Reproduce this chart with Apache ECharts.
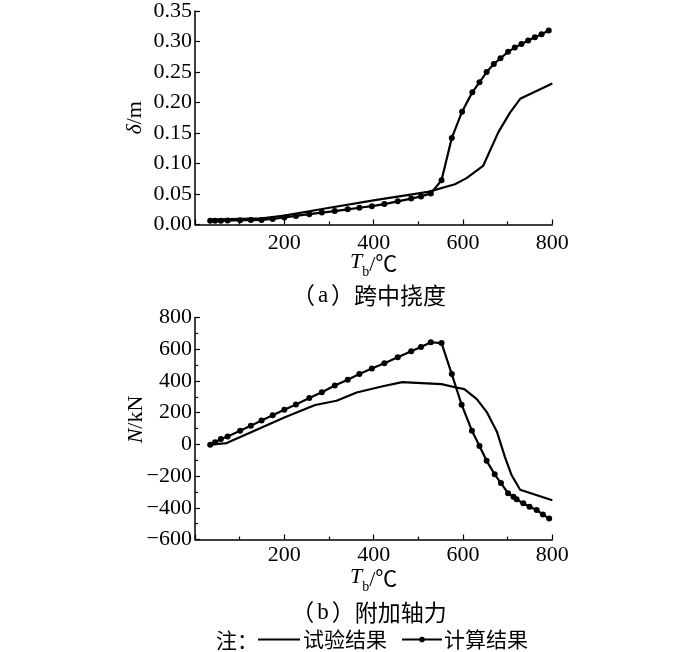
<!DOCTYPE html>
<html>
<head>
<meta charset="utf-8">
<script src="https://cdn.jsdelivr.net/npm/echarts@6/dist/echarts.min.js"></script>
<style>html,body{margin:0;padding:0;background:#fff;}#c{width:700px;height:652px;}</style>
</head>
<body>
<div id="c"></div>
<script>
// (a) mid-span deflection
const aTestT = [34, 150, 200, 298, 403, 522, 582, 608, 645, 679, 705, 728, 800];
const aTestD = [0.008, 0.010, 0.0145, 0.027, 0.040, 0.0535, 0.066, 0.076, 0.096, 0.151, 0.183, 0.206, 0.231];
const aCalcT = [34, 45, 58, 73, 101, 125, 149, 174, 200, 226, 256, 284, 313, 342, 368, 396, 424, 454, 484, 506, 528, 552, 575, 598, 621, 637, 653, 669, 684, 701, 716, 731, 746, 761, 776, 792];
const aCalcD = [0.006, 0.006, 0.0062, 0.0064, 0.007, 0.0072, 0.0075, 0.009, 0.0115, 0.014, 0.017, 0.0195, 0.022, 0.0248, 0.0275, 0.030, 0.0335, 0.038, 0.0425, 0.046, 0.051, 0.0725, 0.142, 0.185, 0.217, 0.233, 0.250, 0.263, 0.2725, 0.283, 0.290, 0.296, 0.3015, 0.307, 0.312, 0.318];
// (b) additional axial force
const bTestT = [34, 71, 200, 269, 317, 362, 418, 464, 552, 582, 603, 631, 653, 676, 694, 709, 728, 800];
const bTestN = [-2, 8, 170, 248, 275, 327, 365, 392, 380, 360, 348, 285, 205, 80, -80, -195, -286, -352];
const bCalcT = [34, 45, 58, 73, 101, 125, 149, 174, 200, 226, 256, 284, 313, 342, 368, 396, 424, 454, 484, 506, 528, 552, 575, 597, 620, 637, 653, 671, 685, 701, 713, 720, 735, 749, 765, 779, 793];
const bCalcN = [-2, 13, 34, 50, 86, 118, 151, 183, 218, 252, 292, 329, 371, 407, 443, 478, 512, 550, 587, 614, 644, 639, 443, 250, 86, -11, -104, -189, -244, -308, -331, -346, -372, -394, -414, -443, -468];

const xTicks = {min: 0, max: 800, interval: 200};
const aYTicks = {min: 0, max: 0.35, interval: 0.05};
const bYTicks = {min: -600, max: 800, interval: 200};

const seriesNames = ['试验结果', '计算结果'];
const titleLetters = ['a', 'b'];
const titleTexts = ['跨中挠度', '附加轴力'];

const zip = (xs, ys) => xs.map((x, i) => [x, ys[i]]);
const SERIF = "'Liberation Serif','Noto Sans CJK SC'";
const CJK = "'Noto Sans CJK SC'";
const LW = 2.2;

function xAxis(gi, labelMargin) {
  return {
    type: 'value', gridIndex: gi, min: xTicks.min, max: xTicks.max, interval: xTicks.interval,
    axisLine: {show: true, onZero: false, lineStyle: {color: '#000', width: 1.5}},
    axisTick: {show: true, inside: true, length: 5, lineStyle: {color: '#000', width: 1.2}},
    minorTick: {show: true, splitNumber: 2, length: 3, lineStyle: {color: '#000', width: 1.2}},
    splitLine: {show: false},
    axisLabel: {color: '#000', fontSize: 22, fontFamily: SERIF, margin: labelMargin, showMinLabel: false,
      formatter: v => v === 0 ? '' : String(v)},
    name: '{i|T}{s|b}{n|/℃}', nameLocation: 'middle', nameGap: 27, nameMoveOverlap: false,
    nameTextStyle: {rich: {
      i: {fontSize: 22, fontStyle: 'italic', fontFamily: SERIF, color: '#000', verticalAlign: 'top'},
      s: {fontSize: 14, fontFamily: SERIF, color: '#000', padding: [14, 0, 0, 0]},
      n: {fontSize: 22, fontFamily: SERIF, color: '#000'}
    }}
  };
}

function titleOf(i, top) {
  return {
    text: '{p|（}{l|' + titleLetters[i] + '}{p|）}{c|' + titleTexts[i] + '}',
    left: 364, top: top, textAlign: 'center',
    textStyle: {fontWeight: 'normal', rich: {
      p: {fontSize: 23, fontWeight: 'normal', fontFamily: CJK, color: '#000'},
      l: {fontSize: 23, fontWeight: 'normal', fontFamily: "'Liberation Serif'", color: '#000', padding: [0, 3, 0, 3]},
      c: {fontSize: 23, fontWeight: 'normal', fontFamily: CJK, color: '#000'}
    }}
  };
}

const option = {
  animation: false,
  backgroundColor: '#fff',
  grid: [
    {left: 195, top: 4.5, width: 357.3, height: 220, containLabel: false},
    {left: 195, top: 317.5, width: 357.3, height: 222, containLabel: false}
  ],
  title: [titleOf(0, 279), titleOf(1, 596)],
  legend: [
    {
      left: 258, top: 629, padding: 0, itemWidth: 42, itemHeight: 2, icon: 'rect',
      data: [seriesNames[0]],
      textStyle: {fontSize: 21, fontFamily: CJK, color: '#000', padding: [0, 0, 0, -2]}
    },
    {
      left: 401, top: 629, padding: 0, itemWidth: 40, itemHeight: 7,
      data: [seriesNames[1]],
      textStyle: {fontSize: 21, fontFamily: CJK, color: '#000', padding: [0, 0, 0, -3]}
    }
  ],
  graphic: [
    {type: 'text', left: 216, top: 630, style: {text: '注：', font: "21px 'Noto Sans CJK SC'", fill: '#000'}}
  ],
  xAxis: [xAxis(0, 8), xAxis(1, 5)],
  yAxis: [
    {
      type: 'value', gridIndex: 0, min: aYTicks.min, max: aYTicks.max, interval: aYTicks.interval,
      axisLine: {show: true, lineStyle: {color: '#000', width: 1.5}},
      axisTick: {show: true, inside: true, length: 5, lineStyle: {color: '#000', width: 1.2}},
      splitLine: {show: false},
      axisLabel: {color: '#000', fontSize: 22, fontFamily: SERIF, margin: 3, formatter: v => v.toFixed(2)},
      name: '{i|δ}/m', nameLocation: 'middle', nameGap: 49, nameRotate: 90, nameMoveOverlap: false,
      nameTextStyle: {fontSize: 22, fontFamily: SERIF, color: '#000',
        rich: {i: {fontSize: 22, fontStyle: 'italic', fontFamily: SERIF, color: '#000'}}}
    },
    {
      type: 'value', gridIndex: 1, min: bYTicks.min, max: bYTicks.max, interval: bYTicks.interval,
      axisLine: {show: true, onZero: false, lineStyle: {color: '#000', width: 1.5}},
      axisTick: {show: true, inside: true, length: 5, lineStyle: {color: '#000', width: 1.2}},
      minorTick: {show: true, splitNumber: 2, length: 3, lineStyle: {color: '#000', width: 1.2}},
      splitLine: {show: false},
      axisLabel: {color: '#000', fontSize: 22, fontFamily: SERIF, margin: 3,
        formatter: v => String(v).replace('-', '−')},
      name: '{i|N}/kN', nameLocation: 'middle', nameGap: 48, nameRotate: 90, nameMoveOverlap: false,
      nameTextStyle: {fontSize: 22, fontFamily: SERIF, color: '#000', padding: [0, 0, 0, 18],
        rich: {i: {fontSize: 22, fontStyle: 'italic', fontFamily: SERIF, color: '#000'}}}
    }
  ],
  series: [
    {name: seriesNames[0], type: 'line', xAxisIndex: 0, yAxisIndex: 0, data: zip(aTestT, aTestD),
      symbol: 'none', lineStyle: {color: '#000', width: LW}, itemStyle: {color: '#000'}},
    {name: seriesNames[1], type: 'line', xAxisIndex: 0, yAxisIndex: 0, data: zip(aCalcT, aCalcD),
      symbol: 'circle', symbolSize: 6, lineStyle: {color: '#000', width: LW}, itemStyle: {color: '#000'}},
    {name: seriesNames[0], type: 'line', xAxisIndex: 1, yAxisIndex: 1, data: zip(bTestT, bTestN),
      symbol: 'none', lineStyle: {color: '#000', width: LW}, itemStyle: {color: '#000'}},
    {name: seriesNames[1], type: 'line', xAxisIndex: 1, yAxisIndex: 1, data: zip(bCalcT, bCalcN),
      symbol: 'circle', symbolSize: 6, lineStyle: {color: '#000', width: LW}, itemStyle: {color: '#000'}}
  ]
};
const chart = echarts.init(document.getElementById('c'), null, {renderer: 'canvas'});
chart.setOption(option);
</script>
</body>
</html>
